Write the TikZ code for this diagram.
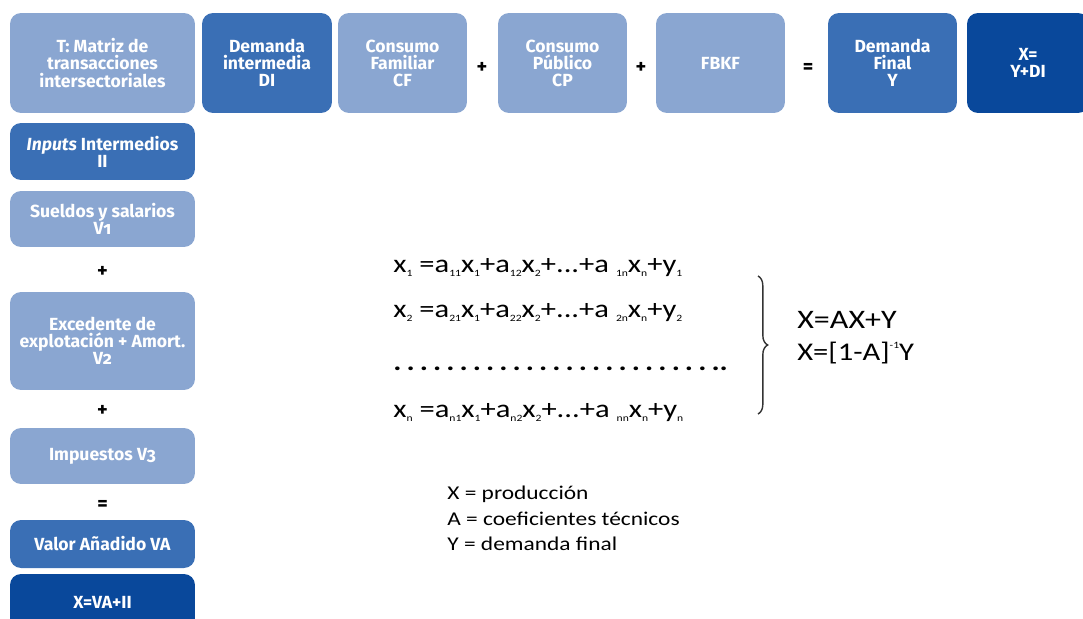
\documentclass[tikz,border=0pt]{standalone}
\usepackage{fontspec}
\setmainfont{Carlito}[FakeStretch=1.2]
\newfontfamily\boxfont{Fira Sans}[Numbers=OldStyle]
\usetikzlibrary{decorations.pathreplacing}
\definecolor{boxlight}{RGB}{138,166,209}
\definecolor{boxmid}{RGB}{58,111,181}
\definecolor{boxdark}{RGB}{9,72,155}
\newcommand{\sbs}[1]{\raisebox{-0.4ex}{\fontsize{5.5}{5.5}\selectfont #1}}
\newcommand{\sps}[1]{\raisebox{0.95ex}{\fontsize{5.5}{5.5}\selectfont #1}}
\tikzset{
  cell/.style={rounded corners=0.22cm, inner sep=0pt, align=center, text=white,
    font=\boxfont\bfseries\fontsize{10}{9.7}\selectfont},
  lightcell/.style={cell, fill=boxlight},
  midcell/.style={cell, fill=boxmid},
  darkcell/.style={cell, fill=boxdark},
  sign/.style={inner sep=0pt, font=\boxfont\bfseries\fontsize{11.5}{11.5}\selectfont},
  eqline/.style={anchor=base west, inner sep=0pt, font=\fontsize{14.5}{14.5}\selectfont},
  legend/.style={anchor=base west, inner sep=0pt, font=\fontsize{11.1}{12}\selectfont}
}
\begin{document}
\begin{tikzpicture}[x=0.02cm,y=-0.02cm]
\useasboundingbox (0,0) rectangle (1083,619);

% top row
\node[lightcell, minimum width=3.7cm, minimum height=2cm] (T) at (102.5,63) {T: Matriz de\\transacciones\\intersectoriales};
\node[midcell, minimum width=2.6cm, minimum height=2cm] (DI) at (267,63) {Demanda\\intermedia\\DI};
\node[lightcell, minimum width=2.58cm, minimum height=2cm] (CF) at (402.5,63) {Consumo\\Familiar\\CF};
\node[sign] (plusA) at (482,68) {+};
\node[lightcell, minimum width=2.58cm, minimum height=2cm] (CP) at (562.5,63) {Consumo\\Público\\CP};
\node[sign] (plusB) at (641,68) {+};
\node[lightcell, minimum width=2.58cm, minimum height=2cm] (FBKF) at (720.5,63) {FBKF};
\node[sign] (eqA) at (808,68) {=};
\node[midcell, minimum width=2.58cm, minimum height=2cm] (Y) at (892.5,63) {Demanda\\Final\\Y};
\node[darkcell, minimum width=2.44cm, minimum height=2cm] (X) at (1028,63) {X=\\Y+DI};

% left column
\node[midcell, minimum width=3.7cm, minimum height=1.14cm] (II) at (102.5,151.5) {\textit{Inputs} Intermedios\\II};
\node[lightcell, minimum width=3.7cm, minimum height=1.12cm] (V1) at (102.5,219) {Sueldos y salarios\\V1};
\node[sign] (plusC) at (102.5,272) {+};
\node[lightcell, minimum width=3.7cm, minimum height=1.96cm] (V2) at (102.5,341) {Excedente de\\explotación + Amort.\\V2};
\node[sign] (plusD) at (102.5,411) {+};
\node[lightcell, minimum width=3.7cm, minimum height=1.12cm] (V3) at (102.5,456) {Impuestos V3};
\node[sign] (eqB) at (102.5,505) {=};
\node[midcell, minimum width=3.7cm, minimum height=0.96cm] (VA) at (102.5,544) {Valor Añadido VA};
\node[darkcell, minimum width=3.7cm, minimum height=1.12cm] (XT) at (102.5,602) {X=VA+II};

% equations
\node[eqline] (eq1) at (393,272) {x\sbs{1} =a\sbs{11}x\sbs{1}+a\sbs{12}x\sbs{2}+...+a \sbs{1n}x\sbs{n}+y\sbs{1}};
\node[eqline] (eq2) at (393,317) {x\sbs{2} =a\sbs{21}x\sbs{1}+a\sbs{22}x\sbs{2}+...+a \sbs{2n}x\sbs{n}+y\sbs{2}};
\node[eqline] (eqdots) at (393,370) {\bfseries\foreach \k in {1,...,24}{.\hspace{2.9pt}}..};
\node[eqline] (eqn) at (393,417) {x\sbs{n} =a\sbs{n1}x\sbs{1}+a\sbs{n2}x\sbs{2}+...+a \sbs{nn}x\sbs{n}+y\sbs{n}};

\coordinate (braceTop) at (758,276);
\coordinate (braceBot) at (758,414);
\draw[black!80, line width=0.8pt, decorate, decoration={brace, amplitude=5.5pt}] (braceTop) -- (braceBot);

\node[eqline, font=\fontsize{15.2}{15.2}\selectfont] (sol1) at (797,328) {X=AX+Y};
\node[eqline] (sol2) at (797,360) {X=[1-A]\sps{-1}Y};

% legend
\node[legend] (leg1) at (447,499) {X = producción};
\node[legend] (leg2) at (447,525) {A = coeficientes técnicos};
\node[legend] (leg3) at (447,550) {Y = demanda final};
\end{tikzpicture}
\end{document}
